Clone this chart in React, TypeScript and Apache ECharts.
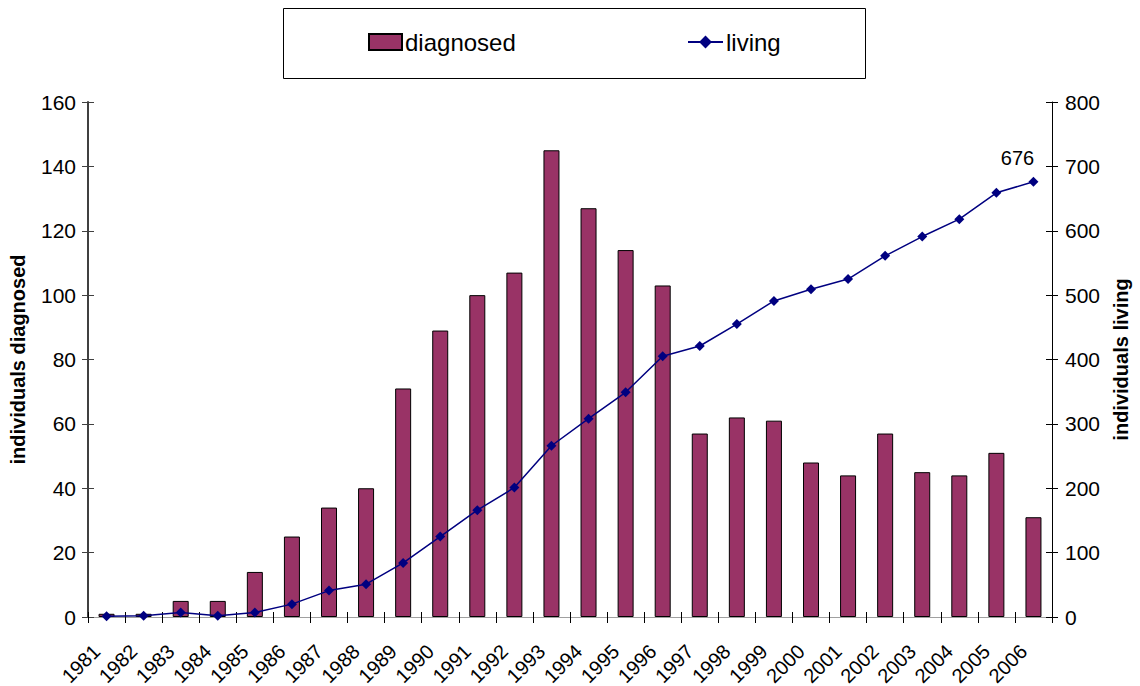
import React, { useEffect, useRef } from "react";
import * as echarts from "echarts";

const years = [
  "1981", "1982", "1983", "1984", "1985", "1986", "1987", "1988", "1989", "1990",
  "1991", "1992", "1993", "1994", "1995", "1996", "1997", "1998", "1999", "2000",
  "2001", "2002", "2003", "2004", "2005", "2006",
];
const diagnosed = [1, 1, 5, 5, 14, 25, 34, 40, 71, 89, 100, 107, 145, 127, 114, 103, 57, 62, 61, 48, 44, 57, 45, 44, 51, 31];
const living = [1, 2, 7, 2, 7, 20, 41, 51, 84, 125, 166, 201, 266, 308, 349, 405, 421, 455, 491, 509, 525, 561, 591, 618, 659, 676];
const labelledIndex = living.length - 1;

const FONT = "'Liberation Sans', Arial, sans-serif";

export default function App() {
  const ref = useRef<HTMLDivElement>(null);
  useEffect(() => {
    if (!ref.current) return;
    const chart = echarts.init(ref.current, undefined, { renderer: "svg" });
    const livingData = living.map((v, i) =>
      i === labelledIndex
        ? {
            value: v,
            label: {
              show: true,
              position: "top",
              offset: [-16, -4],
              formatter: "{c}",
              color: "#000",
              fontSize: 20,
              fontFamily: FONT,
            },
          }
        : v
    );
    chart.setOption({
      animation: false,
      backgroundColor: "#fff",
      textStyle: { fontFamily: FONT, color: "#000" },
      grid: {
        left: 88,
        right: 88,
        top: 102,
        bottom: 69,
        containLabel: false,
        outerBoundsMode: "none",
      },
      graphic: [
        {
          type: "rect",
          left: 283,
          top: 8,
          shape: { width: 582, height: 70 },
          style: { fill: "#fff", stroke: "#000", lineWidth: 1 },
          z: -1,
        },
      ],
      legend: [
        {
          data: [{ name: "diagnosed", icon: "rect" }],
          left: 363,
          top: 25,
          itemWidth: 33,
          itemHeight: 16,
          itemGap: 5,
          textStyle: { fontSize: 24, fontFamily: FONT, color: "#000", padding: [0, 0, 0, -2] },
        },
        {
          data: ["living"],
          left: 682,
          top: 25,
          itemWidth: 35,
          itemHeight: 16,
          itemGap: 5,
          textStyle: { fontSize: 24, fontFamily: FONT, color: "#000", padding: [0, 0, 0, -2] },
        },
      ],
      xAxis: [
        {
          type: "category",
          data: years,
          position: "bottom",
          boundaryGap: true,
          axisLine: { show: true, lineStyle: { color: "#000", width: 1 } },
          axisTick: { show: true, inside: false, length: 6, lineStyle: { color: "#000" } },
          axisLabel: {
            rotate: 45,
            color: "#000",
            margin: 21,
            fontSize: 20,
            fontFamily: FONT,
            formatter: (v: string) => `{t|${v}}`,
            rich: {
              t: { fontSize: 20, fontFamily: FONT, color: "#000", padding: [0, 14, 0, 0] },
            },
          },
          splitLine: { show: false },
        },
        {
          type: "category",
          data: years,
          position: "top",
          axisLine: { show: true, lineStyle: { color: "#a0a0a0", width: 1 } },
          axisTick: { show: false },
          axisLabel: { show: false },
        },
        {
          type: "category",
          data: years,
          position: "bottom",
          axisLine: { show: false },
          axisTick: { show: true, inside: true, length: 5, lineStyle: { color: "#000" } },
          axisLabel: { show: false },
        },
      ],
      yAxis: [
        {
          type: "value",
          position: "left",
          min: 0,
          max: 160,
          interval: 20,
          axisLine: { show: true, lineStyle: { color: "#404040", width: 2 } },
          axisTick: { show: true, inside: false, length: 6, lineStyle: { color: "#404040" } },
          axisLabel: { fontSize: 21, color: "#000", margin: 12, fontFamily: FONT },
          splitLine: { show: false },
          name: "individuals diagnosed",
          nameLocation: "middle",
          nameRotate: 90,
          nameGap: 60,
          nameTextStyle: { fontSize: 20, fontWeight: "bold", color: "#000", fontFamily: FONT },
        },
        {
          type: "value",
          position: "right",
          min: 0,
          max: 800,
          interval: 100,
          axisLine: { show: true, lineStyle: { color: "#000", width: 1 } },
          axisTick: { show: true, inside: false, length: 6, lineStyle: { color: "#000" } },
          axisLabel: { fontSize: 21, color: "#000", margin: 13, fontFamily: FONT },
          splitLine: { show: false },
          name: "individuals living",
          nameLocation: "middle",
          nameRotate: 90,
          nameGap: 59,
          nameTextStyle: { fontSize: 20, fontWeight: "bold", color: "#000", fontFamily: FONT },
        },
        {
          type: "value",
          position: "left",
          min: 0,
          max: 160,
          interval: 20,
          axisLine: { show: false },
          axisTick: { show: true, inside: true, length: 6, lineStyle: { color: "#404040" } },
          axisLabel: { show: false },
          splitLine: { show: false },
        },
        {
          type: "value",
          position: "right",
          min: 0,
          max: 800,
          interval: 100,
          axisLine: { show: false },
          axisTick: { show: true, inside: true, length: 6, lineStyle: { color: "#000" } },
          axisLabel: { show: false },
          splitLine: { show: false },
        },
      ],
      series: [
        {
          name: "diagnosed",
          type: "bar",
          xAxisIndex: 0,
          yAxisIndex: 0,
          data: diagnosed,
          barWidth: 16,
          itemStyle: { color: "#993366", borderColor: "#000", borderWidth: 1 },
        },
        {
          name: "living",
          type: "line",
          xAxisIndex: 0,
          yAxisIndex: 1,
          data: livingData,
          symbol: "diamond",
          symbolSize: 10,
          lineStyle: { color: "#000080", width: 1.5 },
          itemStyle: { color: "#000080" },
          z: 5,
        },
      ],
    });
    return () => chart.dispose();
  }, []);
  return (
    <div
      ref={ref}
      style={{ position: "fixed", left: 0, top: 0, width: 1140, height: 686 }}
    />
  );
}
